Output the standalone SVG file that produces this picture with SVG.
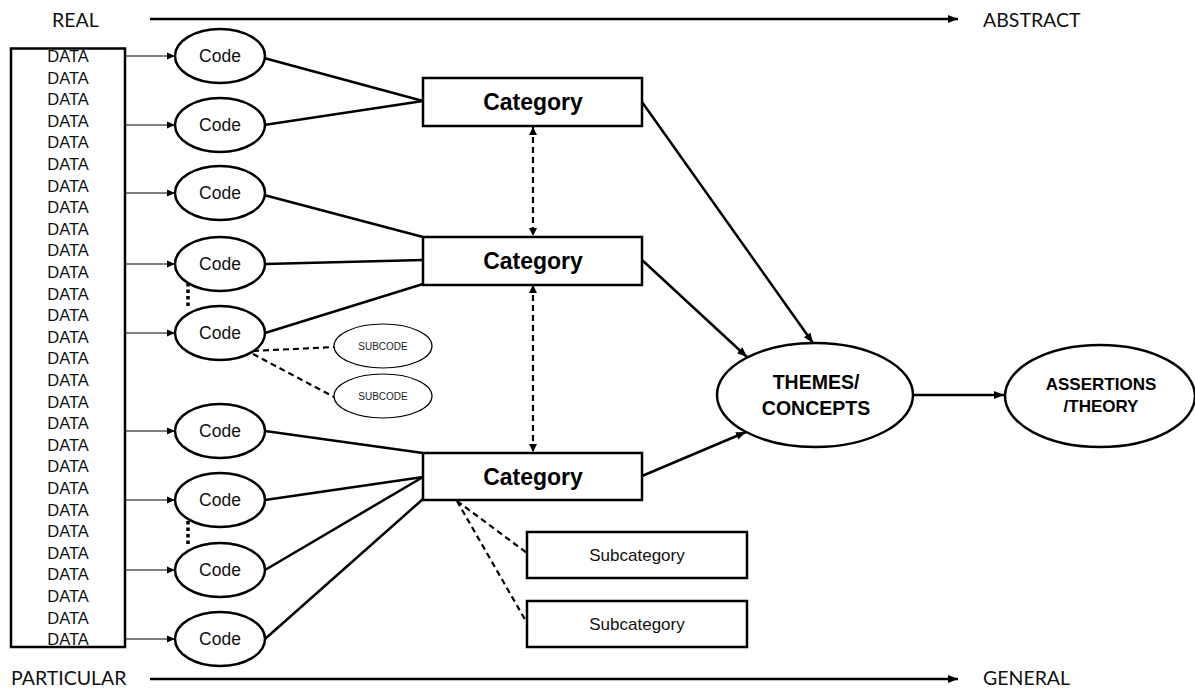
<svg xmlns="http://www.w3.org/2000/svg" width="1195" height="689" viewBox="0 0 1195 689">
  <defs>
    <marker id="headThin" markerUnits="userSpaceOnUse" markerWidth="8" markerHeight="8" refX="8" refY="4" orient="auto">
      <path d="M0,0.5 L8,4 L0,7.5 z" fill="#000"/>
    </marker>
    <marker id="head" markerUnits="userSpaceOnUse" markerWidth="11" markerHeight="9" refX="10" refY="4.5" orient="auto-start-reverse">
      <path d="M0,0.5 L10,4.5 L0,8.5 z" fill="#000"/>
    </marker>
    <marker id="headSmall" markerUnits="userSpaceOnUse" markerWidth="9" markerHeight="9" refX="8" refY="4" orient="auto-start-reverse">
      <path d="M0,0 L8,4 L0,8 z" fill="#000"/>
    </marker>
    <style>
      .axis { font-family: Lato, "Open Sans", sans-serif; font-size: 19.5px; fill: #111; }
      .data { font-family: "Liberation Sans", Arial, sans-serif; font-size: 16.5px; fill: #111; text-anchor: middle; }
      .code { font-family: "Liberation Sans", Arial, sans-serif; font-size: 17.5px; fill: #111; text-anchor: middle; }
      .cat { font-family: "Liberation Sans", Arial, sans-serif; font-size: 23px; font-weight: bold; fill: #000; text-anchor: middle; }
      .subcat { font-family: "Liberation Sans", Arial, sans-serif; font-size: 17px; fill: #111; text-anchor: middle; }
      .subcode { font-family: "Liberation Sans", Arial, sans-serif; font-size: 10px; fill: #222; text-anchor: middle; }
      .big { font-family: "Liberation Sans", Arial, sans-serif; font-weight: bold; fill: #000; text-anchor: middle; }
      .shape { fill: #fff; stroke: #000; stroke-width: 2.5; }
      .thinShape { fill: #fff; stroke: #000; stroke-width: 1.2; }
      .link { stroke: #000; stroke-width: 2.5; fill: none; }
      .feed { stroke: #000; stroke-width: 1; fill: none; marker-end: url(#headThin); }
      .dashLink { stroke: #000; stroke-width: 2.2; stroke-dasharray: 6 4; fill: none; }
      .dotted { stroke: #000; stroke-width: 3.5; stroke-dasharray: 3.5 3; fill: none; }
    </style>
  </defs>

  <!-- axes -->
  <g id="axes">
    <text class="axis" x="52" y="27">REAL</text>
    <line x1="150" y1="19" x2="958" y2="19" stroke="#000" stroke-width="2.5" marker-end="url(#head)"/>
    <text class="axis" x="983" y="27">ABSTRACT</text>
    <text class="axis" x="11" y="685">PARTICULAR</text>
    <line x1="150" y1="679" x2="958" y2="679" stroke="#000" stroke-width="2.5" marker-end="url(#head)"/>
    <text class="axis" x="983" y="685">GENERAL</text>
  </g>

  <!-- connectors -->
  <g id="connectors">
    <!-- data to codes -->
    <line class="feed" x1="125" y1="56" x2="175" y2="56"/>
    <line class="feed" x1="125" y1="125" x2="175" y2="125"/>
    <line class="feed" x1="125" y1="193" x2="175" y2="193"/>
    <line class="feed" x1="125" y1="264" x2="175" y2="264"/>
    <line class="feed" x1="125" y1="333" x2="175" y2="333"/>
    <line class="feed" x1="125" y1="431" x2="175" y2="431"/>
    <line class="feed" x1="125" y1="500" x2="175" y2="500"/>
    <line class="feed" x1="125" y1="570" x2="175" y2="570"/>
    <line class="feed" x1="125" y1="639" x2="175" y2="639"/>

    <!-- codes to categories -->
    <line class="link" x1="264" y1="58" x2="423" y2="101"/>
    <line class="link" x1="264" y1="125" x2="423" y2="101"/>
    <line class="link" x1="264" y1="195" x2="423" y2="237"/>
    <line class="link" x1="265" y1="264" x2="423" y2="260"/>
    <line class="link" x1="265" y1="333" x2="423" y2="284"/>
    <line class="link" x1="265" y1="431" x2="423" y2="453"/>
    <line class="link" x1="265" y1="500" x2="423" y2="477"/>
    <line class="link" x1="265" y1="570" x2="423" y2="477"/>
    <line class="link" x1="265" y1="639" x2="423" y2="499"/>

    <!-- code to code (dotted) -->
    <line class="dotted" x1="188" y1="283" x2="188" y2="309"/>
    <line class="dotted" x1="188" y1="521" x2="188" y2="546"/>

    <!-- code to subcodes -->
    <line class="dashLink" x1="253" y1="351" x2="334" y2="347"/>
    <line class="dashLink" x1="253" y1="354" x2="334" y2="397"/>

    <!-- category to subcategories -->
    <line class="dashLink" x1="457" y1="501" x2="527" y2="553"/>
    <line class="dashLink" x1="457" y1="501" x2="527" y2="623"/>

    <!-- category to category (dashed, two-way) -->
    <line class="dashLink" x1="533" y1="127" x2="533" y2="236" stroke-dasharray="5 3" marker-start="url(#headSmall)" marker-end="url(#headSmall)"/>
    <line class="dashLink" x1="533" y1="285" x2="533" y2="452" stroke-dasharray="5 3" marker-start="url(#headSmall)" marker-end="url(#headSmall)"/>

    <!-- categories to themes -->
    <line class="link" x1="642" y1="102" x2="813" y2="343" stroke-width="2.2" marker-end="url(#head)"/>
    <line class="link" x1="642" y1="260" x2="747" y2="357" stroke-width="2.2" marker-end="url(#head)"/>
    <line class="link" x1="642" y1="476" x2="746" y2="432" stroke-width="2.2" marker-end="url(#head)"/>

    <!-- themes to assertions -->
    <line class="link" x1="913" y1="395" x2="1004" y2="395" stroke-width="2.2" marker-end="url(#head)"/>
  </g>

  <!-- data column -->
  <g id="data">
    <rect class="shape" x="11" y="48.5" width="114" height="598.5"/>
    <text class="data" x="68" y="62">DATA</text>
    <text class="data" x="68" y="83.6">DATA</text>
    <text class="data" x="68" y="105.2">DATA</text>
    <text class="data" x="68" y="126.8">DATA</text>
    <text class="data" x="68" y="148.4">DATA</text>
    <text class="data" x="68" y="170">DATA</text>
    <text class="data" x="68" y="191.6">DATA</text>
    <text class="data" x="68" y="213.2">DATA</text>
    <text class="data" x="68" y="234.8">DATA</text>
    <text class="data" x="68" y="256.4">DATA</text>
    <text class="data" x="68" y="278">DATA</text>
    <text class="data" x="68" y="299.6">DATA</text>
    <text class="data" x="68" y="321.2">DATA</text>
    <text class="data" x="68" y="342.8">DATA</text>
    <text class="data" x="68" y="364.4">DATA</text>
    <text class="data" x="68" y="386">DATA</text>
    <text class="data" x="68" y="407.6">DATA</text>
    <text class="data" x="68" y="429.2">DATA</text>
    <text class="data" x="68" y="450.8">DATA</text>
    <text class="data" x="68" y="472.4">DATA</text>
    <text class="data" x="68" y="494">DATA</text>
    <text class="data" x="68" y="515.6">DATA</text>
    <text class="data" x="68" y="537.2">DATA</text>
    <text class="data" x="68" y="558.8">DATA</text>
    <text class="data" x="68" y="580.4">DATA</text>
    <text class="data" x="68" y="602">DATA</text>
    <text class="data" x="68" y="623.6">DATA</text>
    <text class="data" x="68" y="645.2">DATA</text>
  </g>

  <!-- codes -->
  <g id="code1"><ellipse class="shape" cx="220" cy="56" rx="45" ry="27"/><text class="code" x="220" y="62">Code</text></g>
  <g id="code2"><ellipse class="shape" cx="220" cy="125" rx="45" ry="27"/><text class="code" x="220" y="131">Code</text></g>
  <g id="code3"><ellipse class="shape" cx="220" cy="193" rx="45" ry="27"/><text class="code" x="220" y="199">Code</text></g>
  <g id="code4"><ellipse class="shape" cx="220" cy="264" rx="45" ry="27"/><text class="code" x="220" y="270">Code</text></g>
  <g id="code5"><ellipse class="shape" cx="220" cy="333" rx="45" ry="27"/><text class="code" x="220" y="339">Code</text></g>
  <g id="code6"><ellipse class="shape" cx="220" cy="431" rx="45" ry="27"/><text class="code" x="220" y="437">Code</text></g>
  <g id="code7"><ellipse class="shape" cx="220" cy="500" rx="45" ry="27"/><text class="code" x="220" y="506">Code</text></g>
  <g id="code8"><ellipse class="shape" cx="220" cy="570" rx="45" ry="27"/><text class="code" x="220" y="576">Code</text></g>
  <g id="code9"><ellipse class="shape" cx="220" cy="639" rx="45" ry="27"/><text class="code" x="220" y="645">Code</text></g>

  <!-- subcodes -->
  <g id="subcode1"><ellipse class="thinShape" cx="383" cy="346" rx="49" ry="22"/><text class="subcode" x="383" y="350">SUBCODE</text></g>
  <g id="subcode2"><ellipse class="thinShape" cx="383" cy="396" rx="49" ry="22"/><text class="subcode" x="383" y="400">SUBCODE</text></g>

  <!-- categories -->
  <g id="category1"><rect class="shape" x="423" y="78" width="219" height="48"/><text class="cat" x="533" y="110">Category</text></g>
  <g id="category2"><rect class="shape" x="423" y="237" width="219" height="48"/><text class="cat" x="533" y="269">Category</text></g>
  <g id="category3"><rect class="shape" x="423" y="453" width="219" height="47"/><text class="cat" x="533" y="485">Category</text></g>

  <!-- subcategories -->
  <g id="subcategory1"><rect class="shape" x="527" y="532" width="220" height="46"/><text class="subcat" x="637" y="561">Subcategory</text></g>
  <g id="subcategory2"><rect class="shape" x="527" y="601" width="220" height="46"/><text class="subcat" x="637" y="630">Subcategory</text></g>

  <!-- themes -->
  <g id="themes">
    <ellipse class="shape" cx="815" cy="395" rx="98" ry="52"/>
    <text class="big" x="816" y="389" font-size="19.5">THEMES/</text>
    <text class="big" x="816" y="415" font-size="19.5">CONCEPTS</text>
  </g>

  <!-- assertions -->
  <g id="assertions">
    <ellipse class="shape" cx="1100" cy="396" rx="95" ry="51"/>
    <text class="big" x="1101" y="390" font-size="17">ASSERTIONS</text>
    <text class="big" x="1101" y="412" font-size="17">/THEORY</text>
  </g>
</svg>
